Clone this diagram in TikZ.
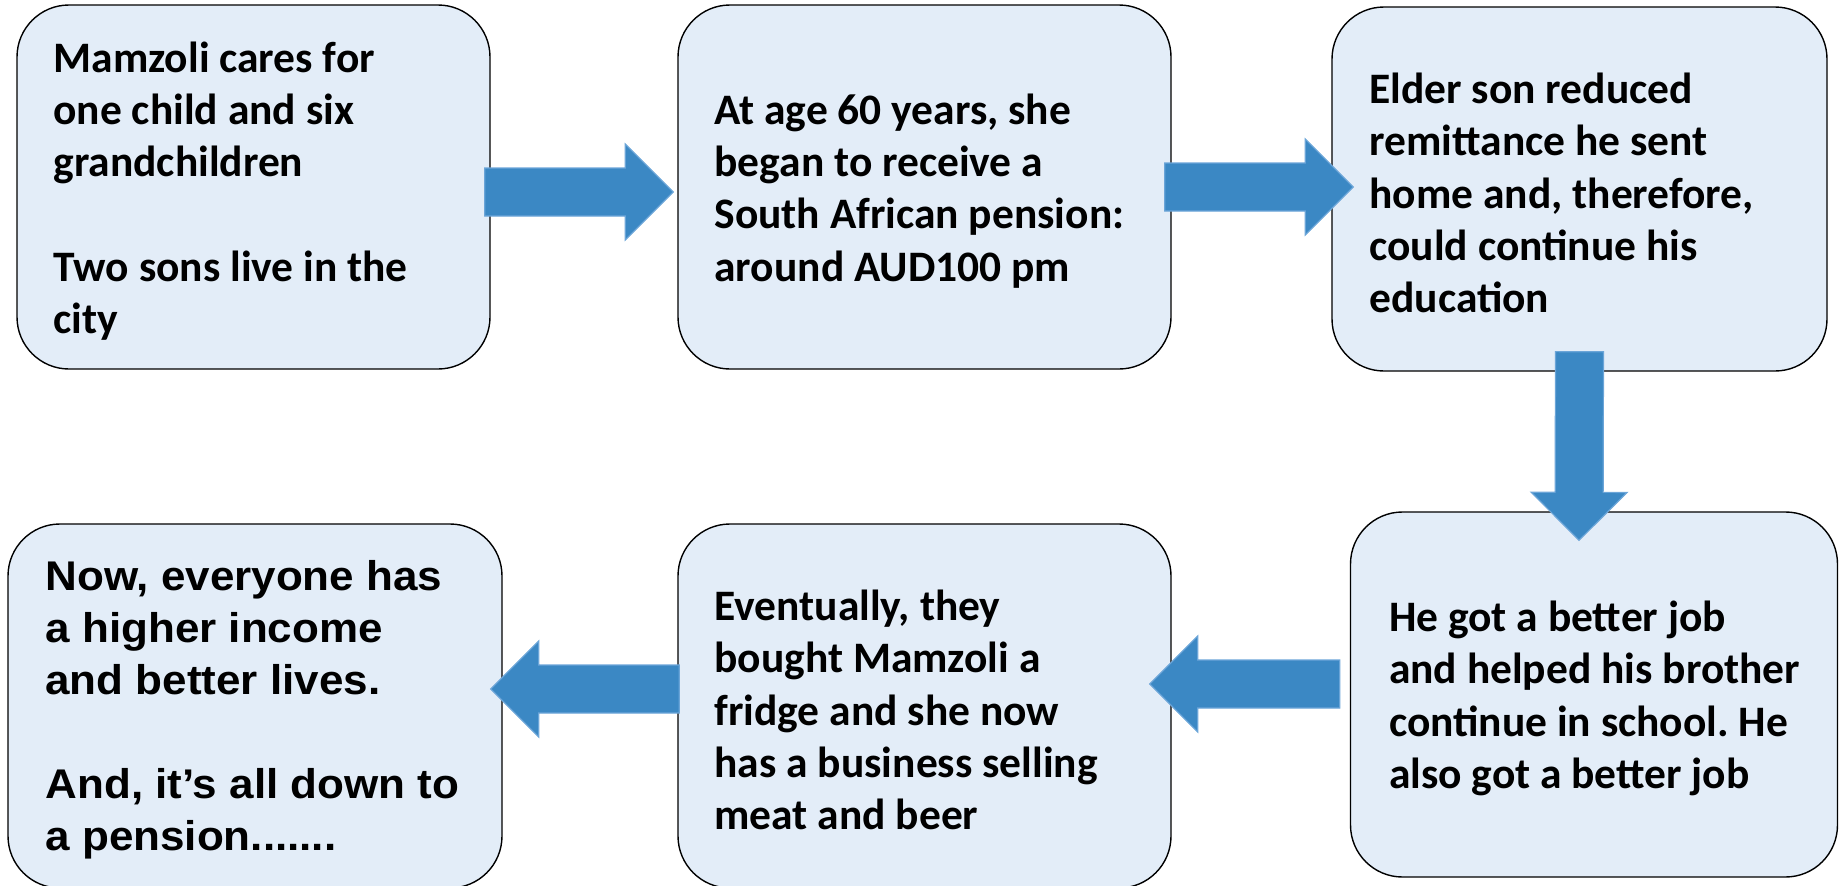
\documentclass[tikz,border=0pt]{standalone}
\usepackage{fontspec}
\setmainfont{Carlito}
\newfontfamily\arialfont[FakeStretch=1.06]{Liberation Sans}
\usetikzlibrary{calc}
\frenchspacing
\definecolor{boxfill}{HTML}{E3EDF8}
\definecolor{arrfill}{HTML}{3B88C4}
\definecolor{arredge}{HTML}{6BA5D8}
\tikzset{
  stagebox/.style={draw=black, line width=1.4pt, fill=boxfill, rounded corners=52pt, inner sep=0pt},
  stagetext/.style={anchor=west, align=left, inner sep=0pt, font=\fontsize{43.5}{52.3}\selectfont\bfseries},
  finaltext/.style={anchor=west, align=left, inner sep=0pt, font=\fontsize{41.5}{52}\selectfont\arialfont\bfseries},
  blockarrow/.style={fill=arrfill, draw=arredge, line width=1.2pt},
}
\newcommand{\blockarr}[2]{%
  \path (#1) coordinate (baS) (#2) coordinate (baT);%
  \pgfpointdiff{\pgfpointanchor{baS}{center}}{\pgfpointanchor{baT}{center}}%
  \pgfgetlastxy{\badx}{\bady}%
  \pgfmathsetmacro{\baang}{atan2(\bady,\badx)}%
  \pgfmathsetmacro{\balen}{veclen(\badx,\bady)}%
  \filldraw[blockarrow, shift={(baS)}, rotate=\baang]
    (0pt,-24pt) -- (\balen pt-48pt,-24pt) -- (\balen pt-48pt,-48pt) -- (\balen pt,0pt)
    -- (\balen pt-48pt,48pt) -- (\balen pt-48pt,24pt) -- (0pt,24pt) -- cycle;%
}
\begin{document}
\begin{tikzpicture}[x=1pt, y=-1pt]
\useasboundingbox (0,0) rectangle (1839,886);

% boxes
\node[stagebox, minimum width=473pt, minimum height=364pt] (b1) at (253.5,187) {};
\node[stagebox, minimum width=493pt, minimum height=364pt] (b2) at (924.5,187) {};
\node[stagebox, minimum width=495pt, minimum height=364pt] (b3) at (1579.5,189) {};
\node[stagebox, minimum width=487pt, minimum height=365pt] (b6) at (1594,694.5) {};
\node[stagebox, minimum width=493pt, minimum height=364pt] (b5) at (924.5,706) {};
\node[stagebox, minimum width=494pt, minimum height=364pt] (b4) at (255,706) {};

% texts
\node[stagetext] (t1) at ($(b1.west)+(37,4)$) {Mamzoli cares for\\one child and six\\grandchildren\\[52.3pt]Two sons live in the\\city};
\node[stagetext] (t2) at ($(b2.west)+(37,4)$) {At age 60 years, she\\began to receive a\\South African pension:\\around AUD100 pm};
\node[stagetext] (t3) at ($(b3.west)+(38,4)$) {Elder son reduced\\remittance he sent\\home and, therefore,\\could continue his\\education};
\node[stagetext] (t6) at ($(b6.west)+(39,4)$) {He got a better job\\and helped his brother\\continue in school. He\\also got a better job};
\node[stagetext] (t5) at ($(b5.west)+(37,4)$) {Eventually, they\\bought Mamzoli a\\fridge and she now\\has a business selling\\meat and beer};
\node[finaltext] (t4) at ($(b4.west)+(38,4)$) {Now, everyone has\\a higher income\\and better lives.\\[52pt]And, it’s all down to\\a pension.......};

% arrow end points
\coordinate (a1s) at ($(b1.east)+(-6,5)$);
\coordinate (a1t) at ($(b2.west)+(-4,5)$);
\coordinate (a2s) at ($(b2.east)+(-7,0)$);
\coordinate (a2t) at ($(b3.west)+(22,-2)$);
\coordinate (a3s) at ($(b3.south)+(0,-20)$);
\coordinate (a3t) at ($(b6.north)+(-15,29)$);
\coordinate (a5s) at ($(b6.west)+(-10,-10.5)$);
\coordinate (a5t) at ($(b5.east)+(-22,-22)$);
\coordinate (a4s) at ($(b5.west)+(2,-17)$);
\coordinate (a4t) at ($(b4.east)+(-12,-17)$);

\blockarr{a1s}{a1t}
\blockarr{a2s}{a2t}
\blockarr{a3s}{a3t}
\blockarr{a5s}{a5t}
\blockarr{a4s}{a4t}
\end{tikzpicture}
\end{document}
